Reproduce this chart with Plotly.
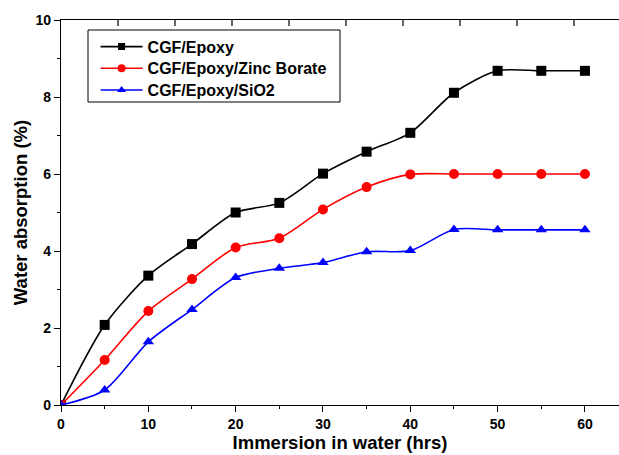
import plotly.graph_objects as go

hours = [0, 5, 10, 15, 20, 25, 30, 35, 40, 45, 50, 55, 60]
cgf_epoxy = [0, 2.08, 3.36, 4.18, 5.0, 5.25, 6.01, 6.58, 7.07, 8.11, 8.68, 8.68, 8.68]
cgf_zinc = [0, 1.17, 2.44, 3.27, 4.09, 4.33, 5.08, 5.66, 5.99, 6.0, 6.0, 6.0, 6.0]
cgf_sio2 = [0, 0.39, 1.64, 2.48, 3.31, 3.55, 3.70, 3.98, 4.01, 4.56, 4.55, 4.55, 4.55]
top_ticks = [1, 2, 3, 4, 5, 6, 7, 8, 9]   # top frame tick marks (own scale, 0..9.79)
TOP_SCALE_MAX = 9.79

series = [
    ("CGF/Epoxy", cgf_epoxy, "black", "square", 7, "legend"),
    ("CGF/Epoxy/Zinc Borate", cgf_zinc, "red", "circle", 8, "legend2"),
    ("CGF/Epoxy/SiO2", cgf_sio2, "blue", "triangle-up", 8, "legend3"),
]

FONT = "Arial, Liberation Sans, sans-serif"

fig = go.Figure()
for name, vals, col, sym, lsize, leg in series:
    fig.add_trace(go.Scatter(
        x=hours, y=vals, name=name, mode="lines+markers", showlegend=False,
        line=dict(color=col, width=1.6, shape="spline", smoothing=0.8),
        marker=dict(color=col, symbol=sym, size=10, line=dict(width=0)),
    ))
# legend entries with smaller markers, one legend per row for exact spacing
for name, vals, col, sym, lsize, leg in series:
    fig.add_trace(go.Scatter(
        x=[None], y=[None], name=name, mode="lines+markers", legend=leg,
        line=dict(color=col, width=1.6),
        marker=dict(color=col, symbol=sym, size=lsize, line=dict(width=0)),
    ))

legfont = dict(family=FONT, size=16, color="black", weight="bold")
legbase = dict(x=0.062, xanchor="left", yanchor="middle", borderwidth=0,
               bgcolor="rgba(0,0,0,0)", font=legfont, itemwidth=42)

shapes = [dict(type="rect", xref="paper", yref="paper",
               x0=0.0484, x1=0.5, y0=0.787, y1=0.974,
               line=dict(color="black", width=1), fillcolor="white", layer="below")]
# inward tick marks of the top frame
for t in top_ticks:
    shapes.append(dict(type="line", xref="paper", yref="paper",
                       x0=t / TOP_SCALE_MAX, x1=t / TOP_SCALE_MAX,
                       y0=1, y1=1 - 6 / 385, line=dict(color="black", width=1.2),
                       layer="above"))

fig.update_layout(
    width=619, height=455,
    margin=dict(l=61, r=0, t=20, b=50),
    paper_bgcolor="white", plot_bgcolor="white",
    font=dict(family=FONT, color="black"),
    showlegend=True,
    legend=dict(legbase, y=0.9306),
    legend2=dict(legbase, y=0.8745),
    legend3=dict(legbase, y=0.818),
    shapes=shapes,
    xaxis=dict(
        range=[0, 63.9], tickvals=[0, 10, 20, 30, 40, 50, 60], automargin=False,
        ticks="outside", ticklen=6, tickwidth=1, tickcolor="black",
        minor=dict(ticks="outside", ticklen=3, tickvals=[5, 15, 25, 35, 45, 55], tickcolor="black"),
        showline=True, mirror=True, linecolor="black", linewidth=1.2,
        showgrid=False, zeroline=False,
        tickfont=dict(family=FONT, size=14, color="black", weight="bold"),
        title=dict(text="Immersion in water (hrs)", standoff=2,
                   font=dict(family=FONT, size=18.5, color="black", weight="bold")),
    ),
    yaxis=dict(
        range=[0, 10], tickvals=[0, 2, 4, 6, 8, 10], automargin=False,
        ticks="outside", ticklen=6, tickwidth=1, tickcolor="black",
        minor=dict(ticks="outside", ticklen=3, tickvals=[1, 3, 5, 7, 9], tickcolor="black"),
        showline=True, linecolor="black", linewidth=1.2,
        showgrid=False, zeroline=False,
        tickfont=dict(family=FONT, size=14, color="black", weight="bold"),
        title=dict(text="Water absorption (%)", standoff=3,
                   font=dict(family=FONT, size=18.5, color="black", weight="bold")),
    ),
)

fig.write_html("out.html", config={"displayModeBar": False},
               post_script="document.body.style.margin='0';")
